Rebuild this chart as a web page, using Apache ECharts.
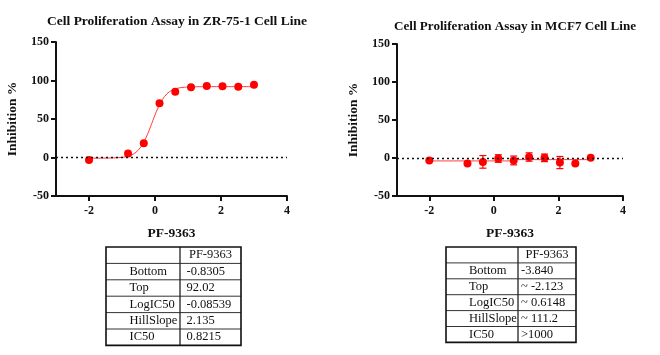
<!DOCTYPE html>
<html><head><meta charset="utf-8">
<script src="https://cdn.jsdelivr.net/npm/echarts@6/dist/echarts.min.js"></script>
<style>html,body{margin:0;padding:0;background:#fff}#c{width:660px;height:355px}</style>
</head><body><div id="c"></div>
<script>
// ---- data ----
const logConc = [-2, -0.817, -0.340, 0.137, 0.614, 1.091, 1.569, 2.046, 2.523, 3.0];
const zrInhibition = [-3.2, 5.2, 18.4, 70.4, 85.5, 91.2, 92.9, 92.6, 91.9, 94.5];
const mcfInhibition = [-3.4, -7.3, -5.1, -0.7, -3.2, 1.3, 0.2, -6.0, -7.1, 0.2];
const mcfError = [0, 0, 8.3, 5.0, 5.8, 5.5, 5.0, 8.0, 0, 0];
const xTicks = [-2, 0, 2, 4];
const yTicks = [-50, 0, 50, 100, 150];
const titles = ['Cell Proliferation Assay in ZR-75-1 Cell Line', 'Cell Proliferation Assay in MCF7 Cell Line'];
const xName = 'PF-9363';
const yName = 'Inhibition %';
// fitted 4PL parameters [Bottom, Top, LogIC50, HillSlope] as reported in the tables
const zrFitParams = [-0.8305, 92.02, -0.08539, 2.135];
const mcfFitParams = [-3.840, -2.123, 0.6148, 111.2];
// table contents
const tableHeader = 'PF-9363';
const tableRowNames = ['Bottom', 'Top', 'LogIC50', 'HillSlope', 'IC50'];
const zrTableValues = ['-0.8305', '92.02', '-0.08539', '2.135', '0.8215'];
const mcfTableValues = ['-3.840', '~ -2.123', '~ 0.6148', '~ 111.2', '>1000'];

// ---- fitted curve from the reported parameters ----
function fitCurve(p) {
  const pts = [];
  const n = 400, x0 = logConc[0], x1 = logConc[logConc.length - 1];
  for (let i = 0; i <= n; i++) {
    const x = x0 + (x1 - x0) * i / n;
    pts.push([x, p[0] + (p[1] - p[0]) / (1 + Math.pow(10, (p[2] - x) * p[3]))]);
  }
  return pts;
}

const FONT = 'Liberation Serif';
const RED = '#ff0000';

function axes(gi) {
  return {
    x: {
      type: 'value', gridIndex: gi, min: -3, max: 4,
      name: xName, nameLocation: 'middle', nameGap: 31,
      nameTextStyle: { fontFamily: FONT, fontWeight: 'bold', fontSize: 13.5, color: '#111' },
      axisLine: { show: true, onZero: false, lineStyle: { color: '#111', width: 2 } },
      axisTick: { show: true, length: 5, lineStyle: { color: '#111', width: 2 }, customValues: xTicks },
      axisLabel: { fontFamily: FONT, fontWeight: 'bold', fontSize: 12, color: '#111', margin: 9, customValues: xTicks },
      splitLine: { show: false }
    },
    y: {
      type: 'value', gridIndex: gi, min: -50, max: 150, interval: 50,
      name: yName, nameLocation: 'middle', nameGap: 36, nameRotate: 90,
      nameTextStyle: { fontFamily: FONT, fontWeight: 'bold', fontSize: 13.5, color: '#111' },
      axisLine: { show: true, onZero: false, lineStyle: { color: '#111', width: 2 } },
      axisTick: { show: true, length: 5, lineStyle: { color: '#111', width: 2 } },
      axisLabel: { fontFamily: FONT, fontWeight: 'bold', fontSize: 12, color: '#111', margin: 7 },
      splitLine: { show: false }
    }
  };
}
const a0 = axes(0), a1 = axes(1);

function errRender(params, api) {
  const x = api.value(0), y = api.value(1), e = api.value(2);
  if (!e) return null;
  const t = api.coord([x, y + e]), b = api.coord([x, y - e]);
  const w = 3.5;
  const st = { stroke: RED, lineWidth: 1.2 };
  return { type: 'group', children: [
    { type: 'line', shape: { x1: t[0], y1: t[1], x2: b[0], y2: b[1] }, style: st },
    { type: 'line', shape: { x1: t[0] - w, y1: t[1], x2: t[0] + w, y2: t[1] }, style: st },
    { type: 'line', shape: { x1: b[0] - w, y1: b[1], x2: b[0] + w, y2: b[1] }, style: st }
  ]};
}

function zeroLine() {
  return { silent: true, symbol: 'none', label: { show: false },
    lineStyle: { color: '#111', type: [2, 3], width: 1.3 }, data: [{ yAxis: 0 }] };
}

// ---- tables ----
function table(x0, x1, x2, y0, rowH, values, labelInset, valueInset) {
  const els = [];
  const rows = tableRowNames.length + 1;
  const h = rowH * rows;
  const font = '12.5px "' + FONT + '"';
  for (let r = 1; r < rows; r++) {
    els.push({ type: 'line', shape: { x1: x0, y1: y0 + r * rowH, x2: x2, y2: y0 + r * rowH }, style: { stroke: '#333', lineWidth: 1 } });
  }
  els.push({ type: 'line', shape: { x1: x1, y1: y0, x2: x1, y2: y0 + h }, style: { stroke: '#222', lineWidth: 1.3 } });
  els.push({ type: 'rect', shape: { x: x0, y: y0, width: x2 - x0, height: h }, style: { fill: 'none', stroke: '#111', lineWidth: 1.6 } });
  els.push({ type: 'text', x: (x1 + x2) / 2, y: y0 + rowH / 2, style: { text: tableHeader, font: font, fill: '#111', align: 'center', verticalAlign: 'middle' } });
  tableRowNames.forEach((nm, i) => {
    const cy = y0 + (i + 1.5) * rowH;
    els.push({ type: 'text', x: x0 + labelInset, y: cy, style: { text: nm, font: font, fill: '#111', align: 'left', verticalAlign: 'middle' } });
    els.push({ type: 'text', x: x1 + valueInset, y: cy, style: { text: values[i], font: font, fill: '#111', align: 'left', verticalAlign: 'middle' } });
  });
  return els;
}

const option = {
  backgroundColor: '#fff',
  animation: false,
  title: [
    { text: titles[0], left: 172, top: 10, textAlign: 'center', textStyle: { fontFamily: FONT, fontWeight: 'bold', fontSize: 13.5, color: '#111' } },
    { text: titles[1], left: 510, top: 15, textAlign: 'center', textStyle: { fontFamily: FONT, fontWeight: 'bold', fontSize: 13.1, color: '#111' } }
  ],
  grid: [
    { left: 56, top: 42, width: 231, height: 154 },
    { left: 397, top: 44, width: 226, height: 152 }
  ],
  xAxis: [a0.x, a1.x],
  yAxis: [a0.y, a1.y],
  series: [
    { type: 'line', xAxisIndex: 0, yAxisIndex: 0, data: fitCurve(zrFitParams), showSymbol: false,
      lineStyle: { color: '#ff3b3b', width: 1 }, silent: true, z: 2 },
    { type: 'scatter', xAxisIndex: 0, yAxisIndex: 0, data: logConc.map((x, i) => [x, zrInhibition[i]]),
      symbolSize: 8, itemStyle: { color: RED, opacity: 1 }, markLine: zeroLine(), z: 3 },
    { type: 'line', xAxisIndex: 1, yAxisIndex: 1, data: fitCurve(mcfFitParams), showSymbol: false,
      lineStyle: { color: '#ff3b3b', width: 1 }, silent: true, z: 2 },
    { type: 'custom', xAxisIndex: 1, yAxisIndex: 1, renderItem: errRender,
      data: logConc.map((x, i) => [x, mcfInhibition[i], mcfError[i]]), encode: { x: 0, y: 1 }, z: 3 },
    { type: 'scatter', xAxisIndex: 1, yAxisIndex: 1, data: logConc.map((x, i) => [x, mcfInhibition[i]]),
      symbolSize: 8, itemStyle: { color: RED, opacity: 1 }, markLine: zeroLine(), z: 4 }
  ],
  graphic: [
    { type: 'group', children: table(106, 180, 241, 247, 16.4, zrTableValues, 23.5, 6.5) },
    { type: 'group', children: table(446, 518, 576, 247, 15.9, mcfTableValues, 23, 3) }
  ]
};

const chart = echarts.init(document.getElementById('c'), null, { renderer: 'canvas' });
chart.setOption(option);
</script>
</body></html>
